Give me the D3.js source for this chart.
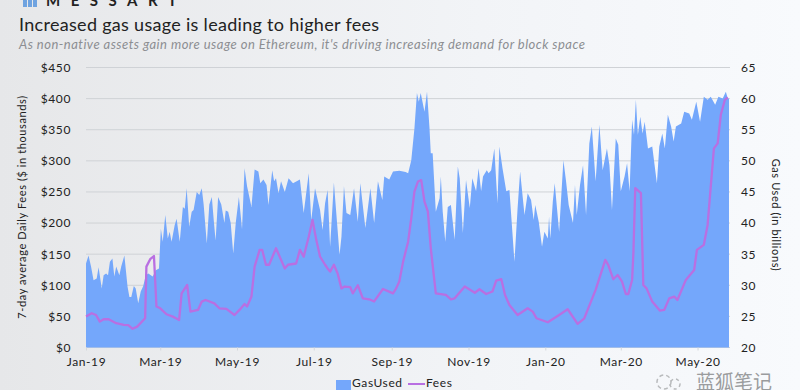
<!DOCTYPE html>
<html>
<head>
<meta charset="utf-8">
<script src="https://cdn.jsdelivr.net/npm/d3@7"></script>
<style>
  body { margin: 0; background: #f0f2f5; overflow: hidden; }
  text { font-family: Lato, sans-serif; fill: #222; }
  .domain { display: none; }
</style>
</head>
<body>
<div id="container"></div>
<script>
// values, days are counted from Jan 1 2019
let gasDays = [0,2,4,6,8.5,10,12.5,14,16,17.5,19,21,22.5,24,26.5,28,30.5,33,34.5,36,38,39.5,41.5,43.5,45.5,47.5,49.5,53,55.5,58,59.5,61,63,65,66.5,68,70.5,72,74.5,77,78.5,80,82,84,85.5,88,90,92,93.5,96,98,100,101.5,103,105,107.5,110,111,113,115,117,119,121.5,124,126,128,131.5,134,137,138.5,141,143.5,145,148,149.5,151,153,155,158,161,164.5,170,173,177,179,182,186,188,190,192,194,197,201.5,203,205,207,210,213,216,218,222,226,229,232,235.5,237,241,244,249,254,256,258.5,261,263,264.5,266,269,271,273,274,275.5,278,281,282,283.5,285.5,287.5,290,293,295.5,297,299.5,302,305,307,310,312,314,315.5,318.5,320,322,324.5,327,328.5,331,334,336.5,340.5,343,345,348.5,351,353.7,355.8,357,359.8,362.4,364.3,367,368,369,371,372.5,376,379.4,381.5,383.6,387,388.6,390,392.6,395,397.4,400,402,405,408,410.6,414,416,418,421,423,425,428,430,432,434,435.5,437,438.6,440.5,442.3,444,446.6,450,453.7,455.6,458,460,462.4,465,467,468.8,473,475.4,479.4,481.5,485,488,491,494,496.5,500,502.6,506,508.5,510,511];
let gasUsed = [33.5,34.8,33,30.8,31.1,32.9,29.5,31.6,31.9,31.6,33.8,34.3,31.4,33,31.6,33,34.8,29.8,28.1,28.1,29.9,29.5,27.1,29,29.9,31.6,31.9,31.4,32.4,32.7,39.1,37,41.3,37.5,38.6,37,39.7,40.7,37,42.6,42.3,45.6,39.4,41.8,42.1,45,44.5,45.6,43,36.7,43,44.2,40.5,37.2,44.2,43,40,42,41.8,40,35.1,40,44.2,39,48.8,45.9,42.6,48.6,48.3,46.4,47,46.1,42.9,48.5,46.7,47.2,44.8,46.7,45,47.2,46.4,47,41.6,48,40.5,45.6,42.1,38.9,43.2,45.3,36.2,46.5,34.9,37.8,45.9,41.6,41.3,45.6,40.2,46.4,39.2,45.6,40,46.7,43.7,47.5,47,48.3,48.4,48.2,48,50.1,55.2,60.9,59.5,60.9,57.9,61.1,55.2,51.2,51.2,41.8,44,47.5,41.8,37,42.6,42.9,37.3,49.1,47.2,38.4,46.9,42.4,47.2,45.1,48.8,45.1,47.5,48.5,48,48.5,52,43.2,52.3,48.8,45.1,45.3,33.8,42.4,48.3,41.3,44.8,43.7,40.5,42.9,40.2,36.2,38.6,37.5,41,37.5,43.5,46.4,38.6,50.1,46.7,42.9,40,46.1,41.3,46.1,49.3,41.3,52.8,55.5,46.7,55.8,48.5,52,49.3,42.1,53.6,52.6,45.1,47.5,49.6,45.1,56.6,54.2,59.8,54.2,57.1,54.4,56.3,52,52.3,46.4,52.3,54.4,52,57.4,55.5,53.1,55.5,56,57.9,57.6,56.6,59.5,56.3,60.3,59.8,60.3,59,60.3,60,61.1,60,60];

let feeDays = [0,4.5,8,11,14,18,24,30,33.6,37,40.7,47,48,51,54,56,59,64,69,74,76,80.4,83,89,92,95,102,106,111.6,118,122,126,128,131.5,134,138,140,143,145.5,151,158,160.5,167,170,173,177,180,183,186,190,192,194,197,200,203,205.5,210,212,216,220,225,229,236,244,246.5,249,252,256,258.5,261,263.8,266.4,269,271.7,274,278,286,290,293,301,309,312.7,318,323,326,330,333,336.5,343,351,355,358,367,376,382.8,390.7,396,405,412.7,415,419,422.5,426,429,431,434,435,436.5,441,442.9,445.5,450,456,459.5,463.5,467.5,470,476.7,483.3,485.5,491,494,499,502,504.5,507.7,510];
let fees = [50,55,52.3,41.6,45.4,45.4,39,36.3,36,30,33.6,47,130,142,147,66,63,53.4,49.6,44.3,87,100.5,57.7,60.4,73.8,76.4,71,63,62,52.3,60.4,70,66,82,130,157,157,133,133,159.5,127,133,135,157,146,178,205,173,146,133,127,122,133,119,95,98,97,87,100,79,77.5,74,94,87,95,106,138,170,208,250.6,266.7,269,234.5,218.5,159.5,87,84.5,77.5,79,98,88,93.6,86,90,107.5,110,84.5,68.4,52.3,63,57.7,47,40.6,52.3,61.5,38,47,92.5,140.7,132.7,109.7,116.6,106,86,86,108.6,151,256,248,100.5,95,73.8,59.3,60.4,79,81.8,76.4,108.6,124.6,157,165,197,320,328,374,398,402];

let feeTicks = [0,50,100,150,200,250,300,350,400,450];
let gasTicks = [20,25,30,35,40,45,50,55,60,65];
let monthTicks = ["2019-01","2019-03","2019-05","2019-07","2019-09","2019-11","2020-01","2020-03","2020-05"];

let w = 800;
let h = 390;
let left = 86;
let right = 729;
let top_ = 67.5;
let bottom = 347.5;
let startDate = new Date(2019, 0, 1);

function dayToDate(d){
  return new Date(startDate.getTime() + d*86400000);
}

let svg = d3.select("div#container")
  .append("svg")
  .attr("width", w)
  .attr("height", h)
  .style("display", "block")
;

let grad = svg.append("defs").append("linearGradient").attr("id", "bg");
grad.append("stop").attr("offset", "0%").attr("stop-color", "#e6e7e9");
grad.append("stop").attr("offset", "60%").attr("stop-color", "#f2f4f7");
grad.append("stop").attr("offset", "100%").attr("stop-color", "#f8fafd");

svg.append("rect").attr("width", w).attr("height", h).attr("fill", "url(#bg)");

let xScale = d3.scaleTime().domain([dayToDate(0), dayToDate(511)]).range([left, right]);
let feeScale = d3.scaleLinear().domain([0, 450]).range([bottom, top_]);
let gasScale = d3.scaleLinear().domain([20, 65]).range([bottom, top_]);

// gridlines sit behind the area
svg.append("g")
  .selectAll("line")
  .data(feeTicks)
  .enter()
  .append("line")
  .attr("x1", left)
  .attr("x2", right + 1)
  .attr("y1", function(d){ return feeScale(d); })
  .attr("y2", function(d){ return feeScale(d); })
  .attr("stroke", "#cfd2d6")
  .attr("stroke-width", 1)
;

let areaMaker = d3.area()
  .x(function(d,i){ return xScale(dayToDate(d)); })
  .y0(bottom)
  .y1(function(d,i){ return gasScale(gasUsed[i]); })
;
svg.append("path")
  .attr("d", areaMaker(gasDays))
  .attr("fill", "#74a7fb")
;

let lineMaker = d3.line()
  .x(function(d,i){ return xScale(dayToDate(d)); })
  .y(function(d,i){ return feeScale(fees[i]); })
;
svg.append("path")
  .attr("d", lineMaker(feeDays))
  .attr("fill", "none")
  .attr("stroke", "#b96fe2")
  .attr("stroke-width", 2.3)
  .attr("stroke-linejoin", "round")
;

// axes
let xAxis = d3.axisBottom(xScale)
  .tickValues(monthTicks.map(function(m){ return d3.timeParse("%Y-%m")(m); }))
  .tickFormat(d3.timeFormat("%b-%y"))
  .tickSize(3)
  .tickPadding(7)
;
let xAxisGroup = svg.append("g")
  .attr("transform", "translate(0,"+bottom+")")
  .call(xAxis)
;
xAxisGroup.selectAll("line").attr("stroke", "#d5d8dc");

let yAxis = d3.axisLeft(feeScale)
  .tickValues(feeTicks)
  .tickFormat(function(d){ return "$"+d; })
  .tickSize(0)
  .tickPadding(15)
;
let yAxisGroup = svg.append("g")
  .attr("transform", "translate("+left+",0)")
  .call(yAxis)
;

let gasAxis = d3.axisRight(gasScale)
  .tickValues(gasTicks)
  .tickSize(0)
  .tickPadding(12)
;
let gasAxisGroup = svg.append("g")
  .attr("transform", "translate("+right+",0)")
  .call(gasAxis)
;

svg.selectAll("g .tick text")
  .attr("font-family", "Lato")
  .attr("font-size", 12)
  .attr("letter-spacing", 0.6)
  .style("fill", "#222")
;

// axis titles
svg.append("text")
  .text("7-day  average Daily Fees ($ in thousands)")
  .attr("transform", "translate(26,207) rotate(-90)")
  .attr("text-anchor", "middle")
  .attr("font-size", 11)
  .attr("letter-spacing", 0.6)
;
svg.append("text")
  .text("Gas Used (in billions)")
  .attr("transform", "translate(772,215) rotate(90)")
  .attr("text-anchor", "middle")
  .attr("font-size", 11)
  .attr("letter-spacing", 0.6)
;

// header
svg.append("text")
  .text("Increased gas usage is leading to higher fees")
  .attr("x", 19)
  .attr("y", 31)
  .attr("font-size", 18)
  .attr("letter-spacing", 0.3)
;
svg.append("text")
  .text("As non-native assets gain more usage on Ethereum, it's driving increasing demand for block space")
  .attr("x", 19)
  .attr("y", 49)
  .attr("font-size", 13)
  .attr("font-style", "italic")
  .attr("letter-spacing", 0.47)
  .style("fill", "#8c8e92")
;
svg.append("text")
  .text("MESSART")
  .attr("x", 46)
  .attr("y", 6)
  .attr("font-size", 15)
  .attr("font-weight", 700)
  .attr("letter-spacing", 10.5)
;
svg.selectAll(".logo")
  .data([23, 28, 33])
  .enter()
  .append("rect")
  .attr("class", "logo")
  .attr("x", function(d){ return d; })
  .attr("y", 0)
  .attr("width", 4)
  .attr("height", 7)
  .attr("fill", "#6fa3e0")
;

// legend
svg.append("rect")
  .attr("x", 336)
  .attr("y", 380)
  .attr("width", 15)
  .attr("height", 10)
  .attr("fill", "#74a7fb")
;
svg.append("text").text("GasUsed").attr("x", 352).attr("y", 387).attr("font-size", 12).attr("letter-spacing", 0.6);
svg.append("line")
  .attr("x1", 408)
  .attr("x2", 425)
  .attr("y1", 384)
  .attr("y2", 384)
  .attr("stroke", "#b96fe2")
  .attr("stroke-width", 2)
;
svg.append("text").text("Fees").attr("x", 426).attr("y", 387).attr("font-size", 12).attr("letter-spacing", 0.6);

// watermark
svg.append("text")
  .text("蓝狐笔记")
  .attr("x", 696)
  .attr("y", 389)
  .attr("font-size", 19)
  .style("font-family", "'Noto Sans CJK SC'")
  .style("fill", "#9a9c9e")
;
svg.append("circle")
  .attr("cx", 664)
  .attr("cy", 382)
  .attr("r", 7)
  .attr("fill", "none")
  .attr("stroke", "#b8babc")
  .attr("stroke-width", 1.5)
  .attr("stroke-dasharray", "4 3")
;
svg.append("circle")
  .attr("cx", 675)
  .attr("cy", 384)
  .attr("r", 5)
  .attr("fill", "none")
  .attr("stroke", "#b8babc")
  .attr("stroke-width", 1.5)
  .attr("stroke-dasharray", "3 3")
;
</script>
</body>
</html>
